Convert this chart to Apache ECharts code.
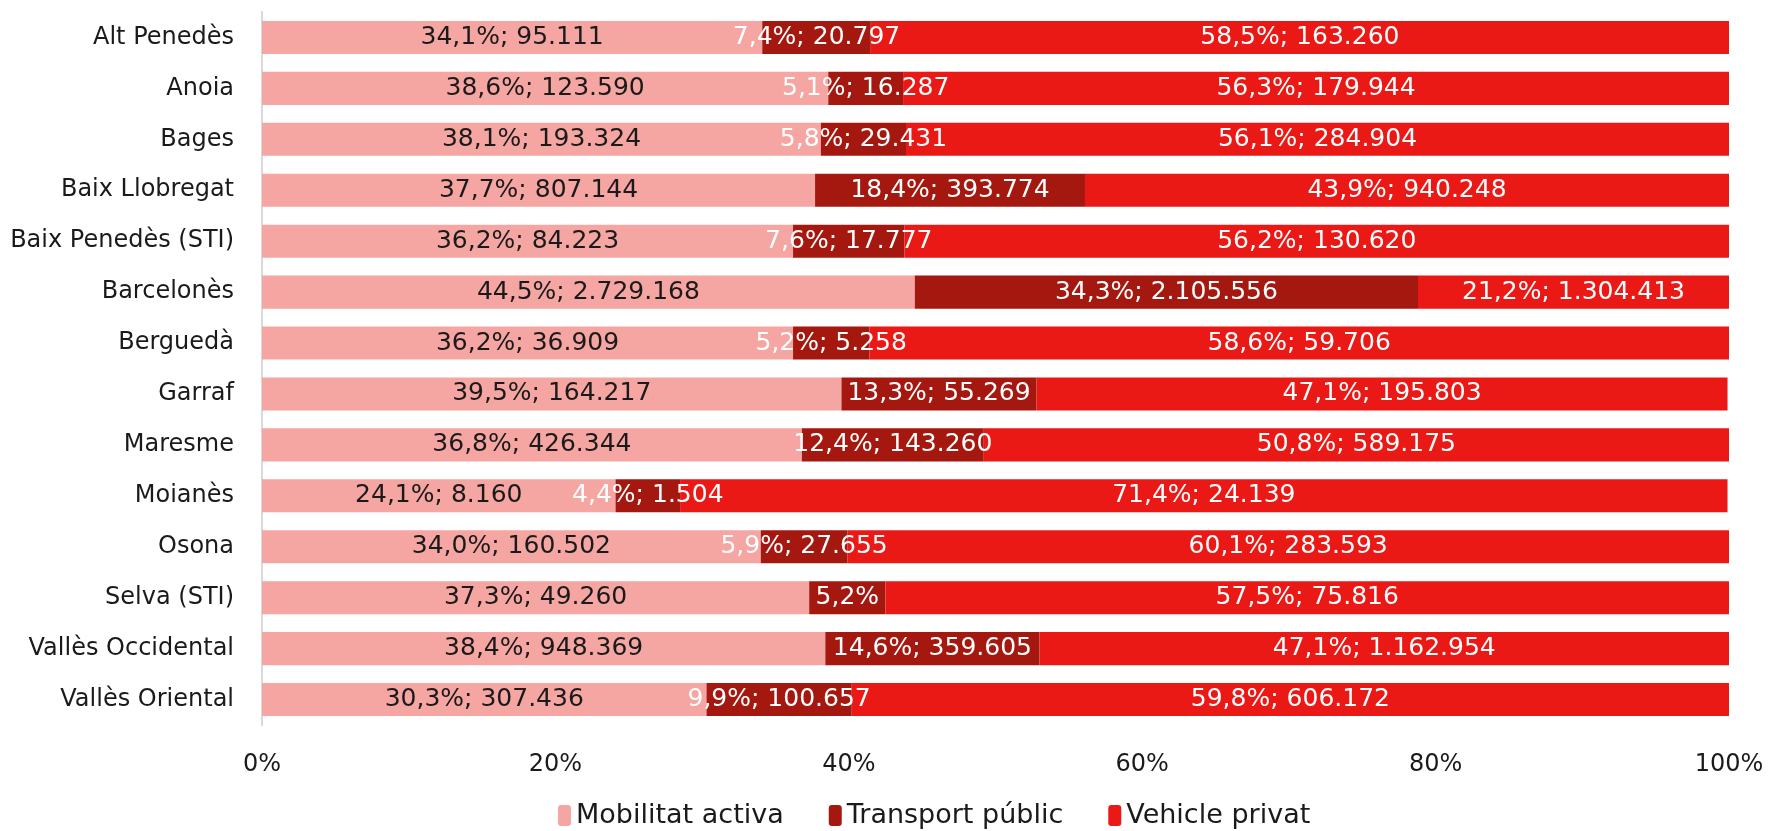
<!DOCTYPE html>
<html>
<head>
<meta charset="utf-8" />
<title>Mobilitat per comarca</title>
<script src="https://cdn.jsdelivr.net/npm/echarts@6/dist/echarts.min.js"></script>
<style>
  html, body { margin: 0; padding: 0; background: #fff; }
  #chart { width: 1773px; height: 831px; }
</style>
</head>
<body>
<div id="chart"></div>
<script>
// comarques
var comarques = ['Alt Penedès', 'Anoia', 'Bages', 'Baix Llobregat', 'Baix Penedès (STI)', 'Barcelonès',
  'Berguedà', 'Garraf', 'Maresme', 'Moianès', 'Osona', 'Selva (STI)', 'Vallès Occidental', 'Vallès Oriental'];

// percentatges
var pctActiva = [34.1, 38.6, 38.1, 37.7, 36.2, 44.5, 36.2, 39.5, 36.8, 24.1, 34.0, 37.3, 38.4, 30.3];
var pctPublic = [7.4, 5.1, 5.8, 18.4, 7.6, 34.3, 5.2, 13.3, 12.4, 4.4, 5.9, 5.2, 14.6, 9.9];
var pctPrivat = [58.5, 56.3, 56.1, 43.9, 56.2, 21.2, 58.6, 47.1, 50.8, 71.4, 60.1, 57.5, 47.1, 59.8];

// desplaçaments (Selva transport públic: sense xifra a l'etiqueta)
var numActiva = [95111, 123590, 193324, 807144, 84223, 2729168, 36909, 164217, 426344, 8160, 160502, 49260, 948369, 307436];
var numPublic = [20797, 16287, 29431, 393774, 17777, 2105556, 5258, 55269, 143260, 1504, 27655, null, 359605, 100657];
var numPrivat = [163260, 179944, 284904, 940248, 130620, 1304413, 59706, 195803, 589175, 24139, 283593, 75816, 1162954, 606172];

var xTicks = [0, 20, 40, 60, 80, 100];

var FONT = 'DejaVu Sans';

function fmtNum(n) {
  return String(n).replace(/\B(?=(\d{3})+(?!\d))/g, '.');
}
function fmtPct(p) {
  return p.toFixed(1).replace('.', ',') + '%';
}

function makeSeries(name, pcts, nums, color, labelColor) {
  return {
    name: name,
    type: 'bar',
    stack: 'total',
    barCategoryGap: '35%',
    itemStyle: { color: color },
    label: {
      show: true,
      position: 'inside',
      color: labelColor,
      fontFamily: FONT,
      fontSize: 25,
      formatter: function (p) {
        var n = nums[p.dataIndex];
        return n == null ? fmtPct(p.value) : fmtPct(p.value) + '; ' + fmtNum(n);
      }
    },
    labelLayout: { hideOverlap: false },
    emphasis: { disabled: true },
    data: pcts
  };
}

var myChart = echarts.init(document.getElementById('chart'));

var option = {
  animation: false,
  textStyle: { fontFamily: FONT },
  grid: { left: 262, right: 44, top: 12, bottom: 106 },
  legend: {
    left: 553,
    top: 797,
    itemWidth: 13,
    itemHeight: 21,
    itemGap: 45,
    textStyle: { fontFamily: FONT, fontSize: 27, color: '#1a1a1a' },
    data: ['Mobilitat activa', 'Transport públic', 'Vehicle privat']
  },
  xAxis: {
    type: 'value',
    min: 0,
    max: 100,
    interval: 20,
    axisLine: { show: false },
    axisTick: { show: false },
    splitLine: { show: false },
    axisLabel: {
      margin: 28,
      fontFamily: FONT,
      fontSize: 24,
      color: '#1a1a1a',
      customValues: xTicks,
      formatter: '{value}%'
    }
  },
  yAxis: {
    type: 'category',
    inverse: true,
    data: comarques,
    axisLine: { show: true, lineStyle: { color: '#d9d9d9', width: 2 } },
    axisTick: { show: false },
    axisLabel: { margin: 28, fontFamily: FONT, fontSize: 24, color: '#1a1a1a' }
  },
  series: [
    makeSeries('Mobilitat activa', pctActiva, numActiva, '#f5a6a2', '#1a1a1a'),
    makeSeries('Transport públic', pctPublic, numPublic, '#a51810', '#ffffff'),
    makeSeries('Vehicle privat', pctPrivat, numPrivat, '#ea1916', '#ffffff')
  ]
};

myChart.setOption(option);
</script>
</body>
</html>
